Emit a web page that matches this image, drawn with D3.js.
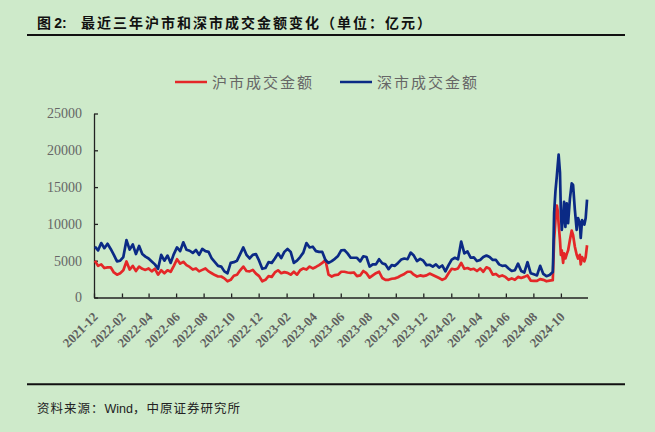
<!DOCTYPE html>
<html>
<head>
<meta charset="utf-8">
<script src="https://cdn.jsdelivr.net/npm/d3@7"></script>
<style>
  body { margin: 0; background: #ceeaca; }
  svg { display: block; }
</style>
</head>
<body>
<div id="chart"></div>
<script>
// x-axis tick labels (every two months)
var tickLabels = ["2021-12", "2022-02", "2022-04", "2022-06", "2022-08", "2022-10",
  "2022-12", "2023-02", "2023-04", "2023-06", "2023-08", "2023-10",
  "2023-12", "2024-02", "2024-04", "2024-06", "2024-08", "2024-10"];
var yTicks = [0, 5000, 10000, 15000, 20000, 25000];

// weekly readings, first week ending 2021-12-03, up to mid Sep 2024
var weekStart = "2021-12-03";
// 深市成交金额 (亿元)
var szWeekly = [6900, 6400, 7400, 6700, 7300, 6600, 5800, 4900, 5000, 5500,
  7800, 6500, 7200, 5900, 7000, 5900, 5550, 5300, 4900, 4500,
  3900, 5800, 5000, 5700, 4700, 5900, 6800, 6300, 7500, 6500,
  6350, 6050, 6450, 5800, 6600, 6300, 6200, 5300, 4800, 4300,
  4200, 3550, 3300, 4700, 4800, 5000, 5900, 6800, 5800, 5300,
  5800, 5900, 5000, 3900, 4000, 4800, 4700, 5300, 6000, 5350,
  6200, 6600, 6200, 4700, 5000, 5500, 6100, 7400, 6800, 6900,
  6300, 6200, 6200, 5100, 4700, 4950, 5250, 5650, 6400, 6450,
  6000, 5400, 5400, 5400, 4900, 5600, 5500, 4200, 4500, 4500,
  5200, 4650, 4500, 3850, 4400, 4300, 4700, 5150, 5300, 5200,
  6100, 5700, 4950, 5250, 5000, 4400, 4450, 4200, 4500, 4050,
  4350, 3550, 4400, 5150, 5400, 5200, 7600, 6000, 6250,
  5400, 5450, 4950, 5100, 5500, 5700, 5500, 5100, 5100, 4500, 4300,
  4350, 3950, 3600, 3700, 4600, 3600, 3400, 4800, 3300, 3150, 3000, 4300, 3200, 2900, 3050, 3450];
// 沪市成交金额 (亿元)
var shWeekly = [5000, 4300, 4500, 4000, 4100, 4100, 3400, 3100, 3300, 3700,
  4900, 3800, 4300, 3600, 4200, 3900, 3750, 3950, 3550, 3900,
  3100, 3700, 3300, 3700, 3500, 4300, 5200, 4600, 4850, 4400,
  4150, 3800, 3950, 3550, 3750, 3950, 3550, 3300, 3050, 2850,
  2850, 2600, 2200, 2400, 2950, 3100, 3700, 4200, 3600, 3550,
  3750, 3250, 2900, 2200, 2400, 2900, 2800, 3400, 3700, 3300,
  3450, 3350, 3100, 3500, 3100, 3700, 3950, 3800, 4200, 3950,
  4150, 4400, 4700, 5100, 3100, 2850, 3050, 3100, 3500, 3500,
  3400, 3350, 3400, 2900, 3000, 3600, 3300, 2700, 3000, 3300,
  3500, 2650, 2400, 2400, 2550, 2600, 2750, 3000, 3200, 3500,
  3500, 3100, 2850, 3000, 2900, 3000, 3250, 3060, 2850, 2650,
  2400, 2600, 3300, 3900, 3800, 3950, 4700, 3900, 4000,
  3800, 3900, 3600, 3950, 3500, 4100, 3900, 3100, 3200, 2850, 3000,
  2800, 2400, 2600, 2400, 2800, 2650, 2800, 3000, 2300, 2250, 2250, 2500, 2400, 2200, 2300, 2350];

// denser readings through the autumn 2024 surge
var lateDates = ["2024-09-14", "2024-09-16", "2024-09-19", "2024-09-22", "2024-09-24",
  "2024-09-26", "2024-09-29", "2024-10-01", "2024-10-03", "2024-10-06", "2024-10-08",
  "2024-10-11", "2024-10-14", "2024-10-17", "2024-10-21", "2024-10-25", "2024-10-28",
  "2024-11-01", "2024-11-05", "2024-11-08", "2024-11-12", "2024-11-14", "2024-11-17",
  "2024-11-22", "2024-11-25", "2024-11-28"];
var szLate = [5500, 11500, 14500, 16500, 18000, 19400, 17000, 11500, 9200, 11000, 13000,
  9600, 12800, 10100, 13400, 15500, 15300, 11900, 9200, 10800, 10100, 8100, 10500,
  9900, 10800, 13300];
var shLate = [4000, 7800, 10500, 12500, 11800, 10000, 7800, 5800, 6400, 4700, 6000,
  5300, 5900, 6400, 7800, 9100, 8500, 6900, 5800, 5300, 5800, 4500, 5500,
  4900, 5500, 7100];

var width = 655;
var height = 432;

var parseDay = d3.timeParse("%Y-%m-%d");
var parseMonth = d3.timeParse("%Y-%m");

var weekDates = szWeekly.map(function (d, i) {
  return d3.timeDay.offset(parseDay(weekStart), 7 * i);
});
var dates = weekDates.concat(lateDates.map(parseDay));
var szSeries = szWeekly.concat(szLate).map(function (v, i) { return { date: dates[i], v: v }; });
var shSeries = shWeekly.concat(shLate).map(function (v, i) { return { date: dates[i], v: v }; });

var x = d3.scaleTime()
  .domain([parseDay("2021-12-01"), parseDay("2024-11-29")])
  .range([94, 587.5]);
var y = d3.scaleLinear().domain([0, 25000]).range([297.5, 113.5]);

var cjk = "'Noto Sans CJK SC', sans-serif";
var serif = "'Liberation Serif', 'Times New Roman', serif";

var svg = d3.select("#chart").append("svg")
  .attr("width", width)
  .attr("height", height);

svg.append("rect").attr("width", width).attr("height", height).attr("fill", "#ceeaca");

// title
var title = svg.append("text")
  .attr("x", 37)
  .attr("y", 28)
  .attr("fill", "#111")
  .style("font-family", cjk)
  .style("font-weight", "bold")
  .style("font-size", "14px");
title.append("tspan").text("图 ");
title.append("tspan").style("font-family", "'Liberation Sans', Arial, sans-serif").text("2:");
title.append("tspan").attr("x", 81).style("letter-spacing", "2px")
  .text("最近三年沪市和深市成交金额变化（单位：亿元）");

svg.append("line")
  .attr("x1", 27).attr("x2", 625).attr("y1", 35).attr("y2", 35)
  .attr("stroke", "#111").attr("stroke-width", 2);

svg.append("line")
  .attr("x1", 27).attr("x2", 625).attr("y1", 384.3).attr("y2", 384.3)
  .attr("stroke", "#111").attr("stroke-width", 2);

// source note
var src = svg.append("text")
  .attr("x", 37)
  .attr("y", 413)
  .attr("fill", "#222")
  .style("font-family", cjk)
  .style("font-size", "12.5px");
src.append("tspan").style("letter-spacing", "1px").text("资料来源：");
src.append("tspan").style("font-family", "'Liberation Sans', Arial, sans-serif").text("Wind");
src.append("tspan").style("letter-spacing", "1px").text("，中原证券研究所");

// legend
var legend = [
  { name: "沪市成交金额", color: "#e42728", x: 175 },
  { name: "深市成交金额", color: "#0b2a85", x: 340 }
];
var lg = svg.selectAll(".legend").data(legend).enter().append("g")
  .attr("class", "legend")
  .attr("transform", function (d) { return "translate(" + d.x + ",82)"; });
lg.append("line")
  .attr("x1", 0).attr("x2", 32)
  .attr("stroke", function (d) { return d.color; })
  .attr("stroke-width", 2.5);
lg.append("text")
  .attr("x", 37)
  .attr("y", 5.5)
  .attr("fill", "#666")
  .style("font-family", cjk)
  .style("font-size", "15px")
  .style("letter-spacing", "2px")
  .text(function (d) { return d.name; });

// axes
var yAxis = d3.axisLeft(y)
  .tickValues(yTicks)
  .tickSizeInner(-4)
  .tickSizeOuter(0)
  .tickPadding(12)
  .tickFormat(d3.format("d"));

var yg = svg.append("g").attr("transform", "translate(94,0)").call(yAxis);
yg.attr("font-family", serif).attr("font-size", 14);
yg.selectAll("text")
  .attr("fill", "#666")
  .style("font-family", serif)
  .style("font-size", "14px");

var tickDates = tickLabels.map(parseMonth);
var xAxis = d3.axisBottom(x)
  .tickValues(tickDates)
  .tickSizeInner(-4)
  .tickSizeOuter(0)
  .tickFormat(function (d, i) { return tickLabels[i]; });

var xg = svg.append("g").attr("transform", "translate(0,297.5)").call(xAxis);
xg.attr("font-family", serif).attr("font-size", 13);
xg.selectAll("text")
  .attr("x", 0)
  .attr("y", 0)
  .attr("dy", "0.35em")
  .attr("transform", "translate(1,17) rotate(-45)")
  .attr("fill", "#5f5f5f")
  .style("text-anchor", "end")
  .style("font-family", serif)
  .style("font-weight", "bold")
  .style("font-size", "13px");

svg.selectAll(".domain, .tick line")
  .attr("stroke", "#222")
  .attr("stroke-width", 1.3);

// series
var line = d3.line()
  .x(function (d) { return x(d.date); })
  .y(function (d) { return y(d.v); });

svg.append("path")
  .datum(shSeries)
  .attr("fill", "none")
  .attr("stroke", "#e42728")
  .attr("stroke-width", 2.7)
  .attr("stroke-linejoin", "round")
  .attr("d", line);

svg.append("path")
  .datum(szSeries)
  .attr("fill", "none")
  .attr("stroke", "#0b2a85")
  .attr("stroke-width", 2.7)
  .attr("stroke-linejoin", "round")
  .attr("d", line);
</script>
</body>
</html>
